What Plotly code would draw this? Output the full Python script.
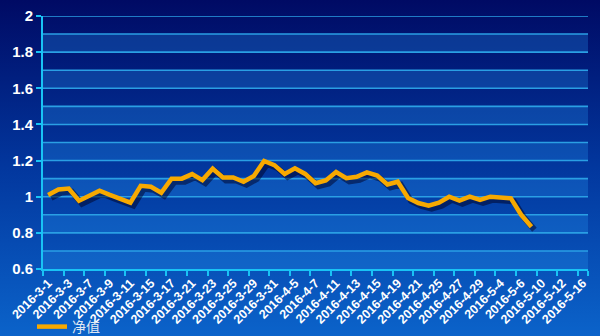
import base64
import plotly.graph_objects as go

# Trading days on the category axis
dates = [
    "2016-3-1", "2016-3-2", "2016-3-3", "2016-3-4", "2016-3-7", "2016-3-8",
    "2016-3-9", "2016-3-10", "2016-3-11", "2016-3-14", "2016-3-15", "2016-3-16",
    "2016-3-17", "2016-3-18", "2016-3-21", "2016-3-22", "2016-3-23", "2016-3-24",
    "2016-3-25", "2016-3-28", "2016-3-29", "2016-3-30", "2016-3-31", "2016-4-1",
    "2016-4-5", "2016-4-6", "2016-4-7", "2016-4-8", "2016-4-11", "2016-4-12",
    "2016-4-13", "2016-4-14", "2016-4-15", "2016-4-18", "2016-4-19", "2016-4-20",
    "2016-4-21", "2016-4-22", "2016-4-25", "2016-4-26", "2016-4-27", "2016-4-28",
    "2016-4-29", "2016-5-3", "2016-5-4", "2016-5-5", "2016-5-6", "2016-5-9",
    "2016-5-10", "2016-5-11", "2016-5-12", "2016-5-13", "2016-5-16",
]

# Net value per trading day (available up to 2016-5-9)
nav = [
    1.01, 1.04, 1.045, 0.978, 1.005, 1.033, 1.01, 0.99, 0.967, 1.06,
    1.055, 1.022, 1.10, 1.10, 1.125, 1.092, 1.155, 1.107, 1.107, 1.083,
    1.115, 1.198, 1.175, 1.126, 1.157, 1.126, 1.075, 1.09, 1.137, 1.102,
    1.11, 1.135, 1.117, 1.068, 1.083, 0.993, 0.965, 0.95, 0.967, 1.0,
    0.978, 1.0, 0.982, 1.0, 0.997, 0.991, 0.9, 0.834,
]
series_name = "净值"

y_ticks = [0.6, 0.8, 1.0, 1.2, 1.4, 1.6, 1.8, 2.0]
y_tick_text = ["0.6", "0.8", "1", "1.2", "1.4", "1.6", "1.8", "2"]
y_min, y_max, y_step = 0.6, 2.0, 0.1

# Canvas geometry
W, H = 600, 336
ML, MR, MT, MB = 43, 9, 16, 64
SH = 3  # drop-shadow offset in px
PW, PH = W - ML - MR, H - MT - MB

CYAN = "#19c3f5"
GRID = "#2a9fe4"
LINE = "#f7a900"

fig = go.Figure()

# soft drop shadow under the line (drawn on a slightly offset hidden subplot)
fig.add_trace(go.Scatter(
    x=dates[:len(nav)], y=nav, mode="lines", xaxis="x", yaxis="y",
    line=dict(color="rgba(0,0,35,0.5)", width=6),
    showlegend=False, hoverinfo="skip",
))
# the net value line
fig.add_trace(go.Scatter(
    x=dates[:len(nav)], y=nav, mode="lines", xaxis="x2", yaxis="y2",
    name=series_name, line=dict(color=LINE, width=4.5),
))

# alternating light bands and horizontal grid lines
shapes = []
n_steps = round((y_max - y_min) / y_step)
for k in range(n_steps):
    lo = round(y_min + k * y_step, 2)
    if k % 2 == 0:
        shapes.append(dict(
            type="rect", xref="paper", yref="y2", x0=0, x1=(PW - SH) / PW,
            y0=lo, y1=round(lo + y_step, 2), layer="below",
            fillcolor="rgba(40,150,240,0.28)", line=dict(width=0),
        ))
for k in range(1, n_steps + 1):
    v = round(y_min + k * y_step, 2)
    shapes.append(dict(
        type="line", xref="paper", yref="y2", x0=0, x1=(PW - SH) / PW,
        y0=v, y1=v, layer="below", line=dict(color=GRID, width=1.6),
    ))

# vertical background gradient for the whole canvas
svg = (
    f'<svg xmlns="http://www.w3.org/2000/svg" width="{W}" height="{H}" '
    f'viewBox="0 0 {W} {H}" preserveAspectRatio="none">'
    '<defs><linearGradient id="g" x1="0" y1="0" x2="0" y2="1">'
    '<stop offset="0" stop-color="#000a64"/>'
    '<stop offset="0.5" stop-color="#02379e"/>'
    '<stop offset="1" stop-color="#0b63ca"/>'
    '</linearGradient></defs>'
    f'<rect width="{W}" height="{H}" fill="url(#g)"/></svg>'
)
bg_src = "data:image/svg+xml;base64," + base64.b64encode(svg.encode()).decode()

label_font = dict(family="Liberation Sans, Arial", color="white", weight="bold")

fig.update_layout(
    width=W, height=H,
    margin=dict(l=ML, r=MR, t=MT, b=MB, pad=0, autoexpand=False),
    paper_bgcolor="#02379e",
    plot_bgcolor="rgba(0,0,0,0)",
    images=[dict(
        source=bg_src, xref="paper", yref="paper",
        x=-ML / PW, y=1 + MT / PH, sizex=W / PW, sizey=H / PH,
        xanchor="left", yanchor="top", sizing="stretch", layer="below",
    )],
    shapes=shapes,
    xaxis=dict(
        type="category", categoryorder="array", categoryarray=dates,
        range=[-0.5, len(dates) - 0.5], domain=[SH / PW, 1],
        anchor="y", visible=False,
    ),
    yaxis=dict(
        range=[y_min, y_max], domain=[0, (PH - SH) / PH],
        anchor="x", visible=False,
    ),
    xaxis2=dict(
        type="category", categoryorder="array", categoryarray=dates,
        range=[-0.5, len(dates) - 0.5], domain=[0, (PW - SH) / PW],
        anchor="y2",
        tickmode="array", tickvals=dates[::2], ticktext=dates[::2],
        tickangle=-45, tickson="boundaries",
        ticks="outside", ticklen=5, tickwidth=2, tickcolor=CYAN,
        showline=True, linecolor=CYAN, linewidth=2,
        showgrid=False, zeroline=False,
        tickfont=dict(size=12.5, **label_font),
    ),
    yaxis2=dict(
        range=[y_min, y_max], domain=[SH / PH, 1], anchor="x2",
        tickmode="array", tickvals=y_ticks, ticktext=y_tick_text,
        ticks="outside", ticklen=5, tickwidth=2, tickcolor=CYAN,
        showline=True, linecolor=CYAN, linewidth=2,
        showgrid=False, zeroline=False,
        tickfont=dict(size=15, **label_font),
    ),
    showlegend=True,
    legend=dict(
        orientation="h", xref="container", x=32 / W, xanchor="left",
        yref="container", y=(H - 327) / H, yanchor="middle",
        bgcolor="rgba(0,0,0,0)", borderwidth=0,
        font=dict(family="Noto Sans CJK SC", size=14, color="#dfe7f2"),
    ),
)

fig.write_html("out.html")
